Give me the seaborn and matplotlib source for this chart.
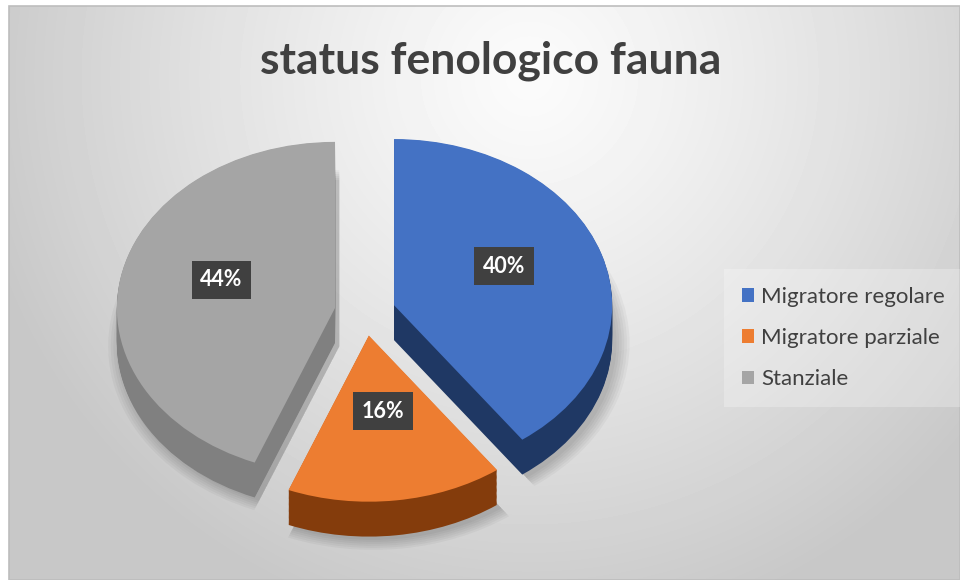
import numpy as np
import matplotlib
matplotlib.use("Agg")
import matplotlib.pyplot as plt
import seaborn as sns
from matplotlib.patches import Rectangle

categories = ["Migratore regolare", "Migratore parziale", "Stanziale"]
values = [40, 16, 44]
top_colors = ["#4472C4", "#ED7D31", "#A5A5A5"]
side_colors = ["#1F3864", "#843C0C", "#808080"]
title = "status fenologico fauna"

sns.set_theme(style="white")
plt.rcParams['font.family'] = ['Lato', 'DejaVu Sans']

fig = plt.figure(figsize=(9.6, 5.8), dpi=100)
fig.patch.set_facecolor('white')

# background gradient
bg = fig.add_axes([9/960, 0, 951/960, 574/580])
H, W = 574, 951
yy, xx = np.mgrid[0:H, 0:W]
d = np.sqrt(((xx - 520) / 560.0) ** 2 + ((yy - 70) / 560.0) ** 2)
val = 0.985 - 0.20 * np.clip(d, 0, 1) ** 1.2
bg.imshow(val, cmap='gray', vmin=0, vmax=1, aspect='auto', interpolation='bilinear')
bg.set_axis_off()
fig.patches.append(Rectangle((9/960, 0), 951/960, 574/580, transform=fig.transFigure,
                             fill=False, edgecolor='#bdbdbd', linewidth=1.2))

# pie axes
ax = fig.add_axes([16/960, 5/580, 698/960, 462/580])
ax.set_zorder(2)
explode = [0.14, 0.14, 0.14]
depth = 0.21
# soft shadow
for s in np.linspace(0.0, 0.06, 6):
    ax.pie(values, colors=['black'] * 3, startangle=90, counterclock=False,
           explode=explode, radius=1.0 + s, center=(0.02, -depth - 0.02),
           wedgeprops=dict(linewidth=0, alpha=0.035))
for off in np.linspace(depth, 0.004, 30):
    ax.pie(values, colors=side_colors, startangle=90, counterclock=False,
           explode=explode, center=(0, -off), wedgeprops=dict(linewidth=0))
wedges, texts, autotexts = ax.pie(
    values, colors=top_colors, startangle=90, counterclock=False,
    explode=explode, autopct='%1.0f%%', pctdistance=0.53,
    wedgeprops=dict(linewidth=0),
    textprops=dict(color='white', fontsize=15.5, fontweight='bold'))
for t in autotexts:
    x, y = t.get_position()
    t.set_position((x, y + 0.07))
    t.set_bbox(dict(boxstyle='square,pad=0.4', facecolor='#404040', edgecolor='none'))
ax.set_aspect('auto')
ax.set_xlim(-1.6, 1.6)
ax.set_ylim(-1.58, 1.2)
ax.set_axis_off()

fig.text(491/960, 1 - 61/580, title, ha='center', va='center', fontsize=32,
         fontweight='bold', color='#404040')

handles = [Rectangle((0, 0), 1, 1, facecolor=c, edgecolor='none') for c in top_colors]
leg = fig.legend(handles, categories, loc='center left',
                 bbox_to_anchor=(720/960, 1 - 338/580), fontsize=16,
                 handlelength=0.55, handleheight=0.55, handletextpad=0.3,
                 labelspacing=0.95, frameon=True, borderpad=0.5)
leg.get_frame().set_facecolor('white')
leg.get_frame().set_alpha(0.25)
leg.get_frame().set_edgecolor('none')
leg.get_frame().set_boxstyle('square')
for t in leg.get_texts():
    t.set_color('#404040')

fig.savefig('out.png', dpi=100)
